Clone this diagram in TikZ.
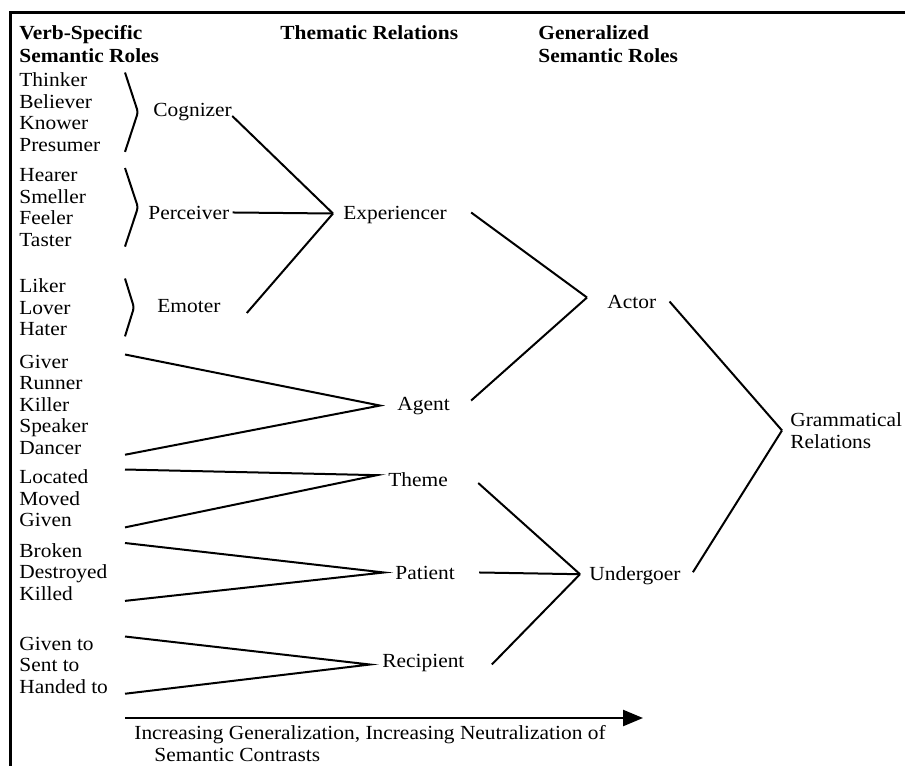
\documentclass[tikz,border=0pt]{standalone}
\usepackage{fontspec}
\setmainfont{Liberation Serif}[FakeStretch=1.07]
\usepackage{tikz}
\usetikzlibrary{positioning,calc,arrows.meta}

\begin{document}
\begin{tikzpicture}[x=0.5pt,y=-0.5pt,
    lbl/.style={inner sep=0pt, anchor=base west, font=\fontsize{10}{10.75}\selectfont},
    grp/.style={inner sep=0pt, anchor=north west, align=left, font=\fontsize{10}{10.75}\selectfont},
    head/.style={grp, font=\fontsize{10}{11.2}\selectfont\bfseries},
    link/.style={line width=1pt},
    brc/.style={line width=1pt, rounded corners=1.5pt}]
    \useasboundingbox (0,0) rectangle (905,766);

    % Frame
    \draw[line width=1.5pt] (905,12) -- (10,12) -- (10,766);

    % Column heads
    \node[head] (hdVerb) at (19,25.5) {Verb-Specific\\Semantic Roles};
    \node[head] (hdThem) at (280,25.5) {Thematic Relations};
    \node[head] (hdGen) at (538,25.5) {Generalized\\Semantic Roles};

    % Verb-specific roles
    \node[grp] (thinkers) at (19,72.5) {Thinker\\Believer\\Knower\\Presumer};
    \node[grp] (hearers) at (19,168) {Hearer\\Smeller\\Feeler\\Taster};
    \node[grp] (likers) at (19,278.5) {Liker\\Lover\\Hater};
    \node[grp] (givers) at (19,354.5) {Giver\\Runner\\Killer\\Speaker\\Dancer};
    \node[grp] (located) at (19,469.5) {Located\\Moved\\Given};
    \node[grp] (broken) at (19,543) {Broken\\Destroyed\\Killed};
    \node[grp] (givento) at (19,636.5) {Given to\\Sent to\\Handed to};
    \coordinate (col) at (125,0);

    % Thematic relations
    \node[lbl] (cognizer) at (153,116) {Cognizer};
    \node[lbl] (perceiver) at (148,219) {Perceiver};
    \node[lbl] (emoter) at (157,312) {Emoter};
    \node[lbl] (experiencer) at (343,219) {Experiencer};
    \node[lbl] (agent) at (397,410) {Agent};
    \node[lbl] (theme) at (388,486) {Theme};
    \node[lbl] (patient) at (395,579) {Patient};
    \node[lbl] (recipient) at (382,667) {Recipient};

    % Generalized roles
    \node[lbl] (actor) at (607,308) {Actor};
    \node[lbl] (undergoer) at (589,580) {Undergoer};
    \node[grp, font=\fontsize{10}{11}\selectfont] (gramrel) at (790,412) {Grammatical\\Relations};

    % Braces
    \foreach \g/\d in {thinkers/13, hearers/13, likers/9}
        \draw[brc] (col |- \g.north) -- ($(col |- \g.west)+(\d,0)$) -- (col |- \g.south);

    % Tips
    \coordinate (expTip) at ($(experiencer.west)+(-10,-1)$);
    \coordinate (agentTip) at ($(agent.west)+(-17,0)$);
    \coordinate (themeTip) at ($(theme.west)+(-11,-4)$);
    \coordinate (patTip) at ($(patient.west)+(-11,0)$);
    \coordinate (recTip) at ($(recipient.west)+(-12,2)$);
    \coordinate (actTip) at ($(actor.west)+(-20,-4)$);
    \coordinate (undTip) at ($(undergoer.west)+(-9,-1)$);
    \coordinate (grTip) at ($(gramrel.west)+(-8,0)$);

    % Lines into thematic relations
    \draw[link] (cognizer.base east) -- (expTip);
    \draw[link] ($(perceiver.east)+(3,0)$) -- (expTip);
    \draw[link] ($(emoter.base east)+(26,1)$) -- (expTip);
    \draw[link] (col |- givers.north) -- (agentTip) -- (col |- givers.south);
    \draw[link] (col |- located.north) -- (themeTip) -- (col |- located.south);
    \draw[link] (col |- broken.north) -- (patTip) -- (col |- broken.south);
    \draw[link] (col |- givento.north) -- (recTip) -- (col |- givento.south);

    % Lines into generalized roles
    \draw[link] ($(experiencer.east)+(24,-2)$) -- (actTip);
    \draw[link] ($(agent.east)+(21,-5)$) -- (actTip);
    \draw[link] ($(theme.base east)+(30,-3)$) -- (undTip);
    \draw[link] ($(patient.east)+(24,0)$) -- (undTip);
    \draw[link] ($(recipient.east)+(27,2)$) -- (undTip);
    \draw[link] ($(actor.east)+(13,0)$) -- (grTip);
    \draw[link] ($(undergoer.east)+(12,-3)$) -- (grTip);

    % Bottom arrow
    \coordinate (arrStart) at (125,718);
    \coordinate (arrEnd) at (643,718);
    \draw[line width=1.2pt, -{Triangle[length=10pt,width=8pt]}] (arrStart) -- (arrEnd);
    \node[grp, font=\fontsize{10}{11}\selectfont] (caption) at (134,725)
        {Increasing Generalization, Increasing Neutralization of\\\hspace*{10pt}Semantic Contrasts};
\end{tikzpicture}
\end{document}
